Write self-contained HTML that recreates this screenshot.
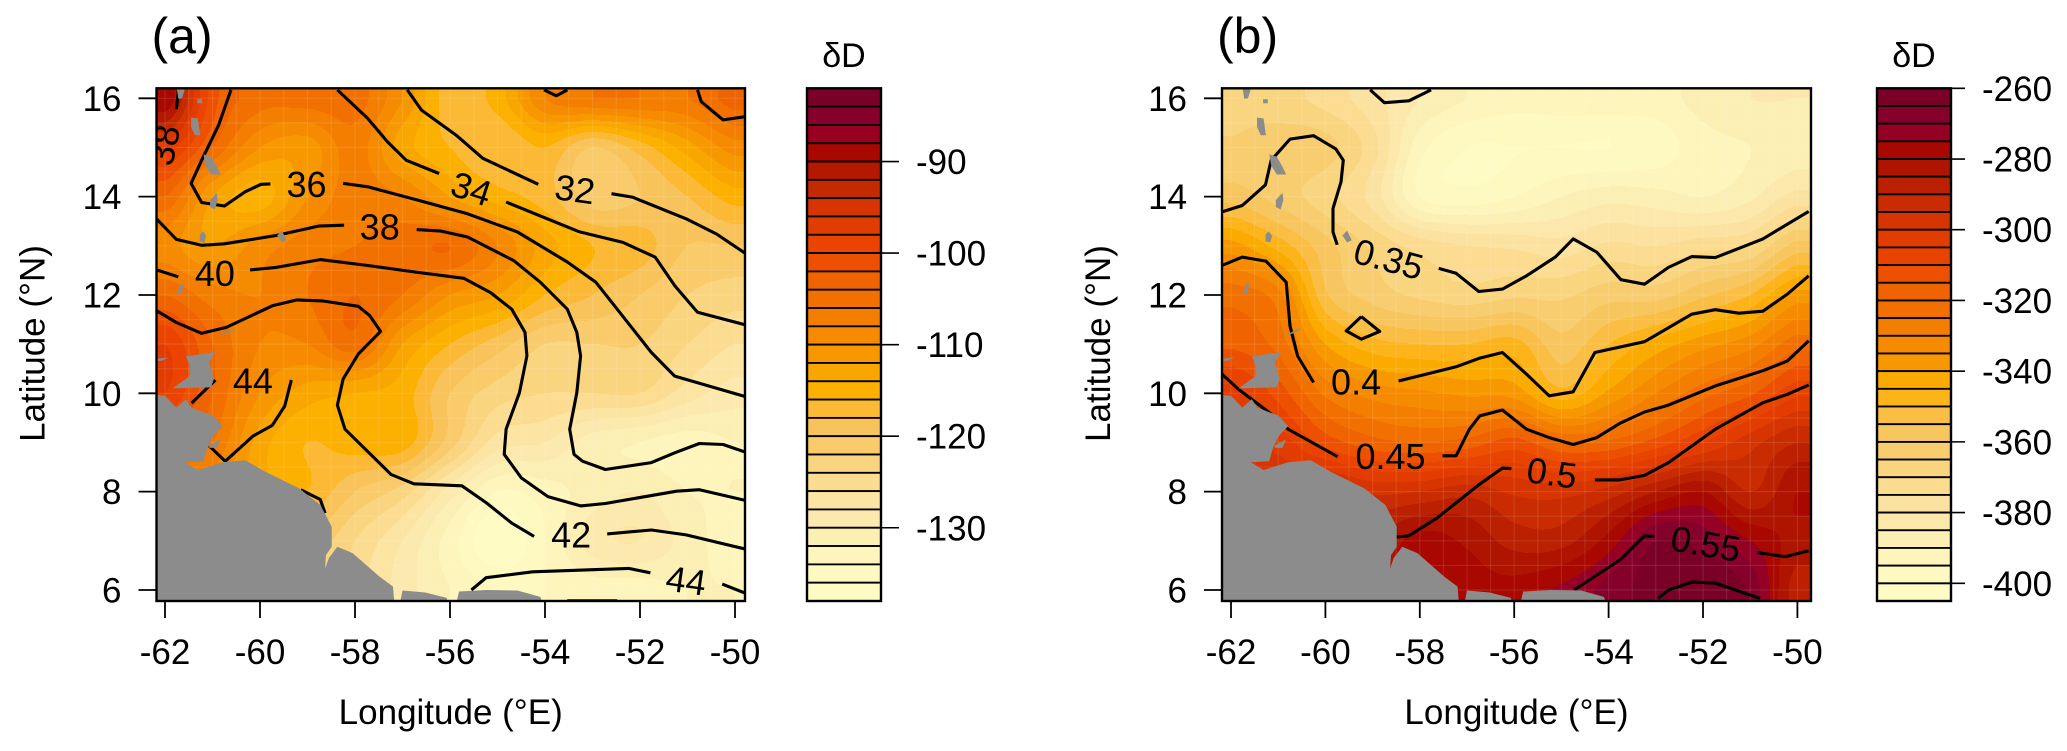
<!DOCTYPE html>
<html>
<head>
<meta charset="utf-8">
<title>Delta D maps</title>
<style>
html,body{margin:0;padding:0;background:#fff;width:2067px;height:751px;overflow:hidden}
svg{display:block}
text{font-family:"Liberation Sans",sans-serif;fill:#000}
</style>
</head>
<body>
<svg id="root" xmlns="http://www.w3.org/2000/svg" width="2067" height="751" viewBox="0 0 2067 751"></svg>
<script>
// ---------- shared data ----------
const lonGrid = [-62,-61,-60,-59,-58,-57,-56,-55,-54,-53,-52,-51,-50];
const latGrid = [16,15,14,13,12,11,10,9,8,7,6];
const lonTicks = [-62,-60,-58,-56,-54,-52,-50];
const latTicks = [6,8,10,12,14,16];
const colorbarTicksA = [-90,-100,-110,-120,-130];
const colorbarTicksB = [-260,-280,-300,-320,-340,-360,-380,-400];

// ---------- panel (a) field ----------
const deltaDA = [
[-88,-101,-105,-105,-105,-110,-117,-115,-108,-106,-106,-106,-103],
[-97,-104,-110,-111,-107,-113,-116,-118,-116,-120,-117,-113,-109],
[-104,-112,-115,-110,-107,-108,-112,-115,-117,-121,-120,-118,-115],
[-109,-112,-109,-107,-106,-105,-104,-108,-113,-116,-117,-120,-120],
[-104,-107,-108,-106,-104,-106,-110,-112,-116,-118,-120,-122,-123],
[-98,-104,-108,-108,-105,-112,-116,-119,-122,-122,-122,-124,-126],
[-98,-104,-110,-113,-114,-115,-120,-123,-124,-124,-124,-127,-129],
[-104,-106,-113,-116,-115,-115,-121,-127,-128,-131,-132,-133,-132],
[-106,-110,-114,-116,-120,-123,-129,-134,-133,-131,-130,-132,-132],
[-110,-114,-118,-120,-124,-128,-133,-138,-134,-129,-128,-131,-133],
[-112,-116,-120,-122,-125,-129,-132,-134,-134,-133,-133,-132,-132]
];
const paletteA = ["#7a0028","#85002a","#990020","#a80800","#b41800","#c42a00","#d63400","#e23c00","#ea4400","#ec5000","#ef6300","#f27000","#f47e00","#f68a00","#f79800","#f9a600","#fcb000","#fbb935","#f8c35a","#f9cb6a","#fad580","#fbdc90","#fce4a2","#fce9ad","#fbefb4","#fdf5bc","#fef9c0","#fefcc4"];

// ---------- panel (b) field ----------
const deltaDB = [
[-367,-368,-372,-378,-385,-390,-393,-392,-392,-392,-388,-385,-385],
[-364,-362,-363,-373,-393,-400,-400,-400,-400,-398,-392,-390,-388],
[-357,-362,-368,-377,-395,-398,-395,-390,-387,-388,-390,-386,-378],
[-338,-347,-358,-366,-372,-375,-376,-378,-374,-375,-372,-370,-358],
[-322,-328,-354,-362,-366,-368,-366,-366,-362,-362,-356,-350,-338],
[-316,-322,-340,-348,-350,-350,-348,-358,-350,-343,-337,-332,-322],
[-303,-312,-326,-332,-334,-336,-337,-348,-339,-330,-322,-316,-306],
[-300,-302,-312,-318,-320,-318,-313,-320,-319,-313,-305,-297,-290],
[-295,-295,-292,-296,-295,-292,-296,-297,-293,-285,-280,-290,-280],
[-290,-288,-286,-285,-278,-281,-287,-287,-278,-265,-267,-275,-282],
[-285,-284,-282,-281,-280,-278,-278,-274,-268,-262,-260,-266,-288]
];
const paletteB = ["#7a0028","#85002a","#950025","#a80800","#ae1400","#bb2000","#c82c00","#d63400","#e23c00","#e84400","#ec5000","#ef6300","#f27000","#f47e00","#f68a00","#f79800","#fbab00","#fcb41a","#fabe45","#f8c65e","#f8cd70","#fad580","#fbdc90","#fce2a0","#fce8ab","#fbefb4","#fdf5bc","#fef9c0","#fefcc4"];

// ---------- contour lines [lon,lat] ----------
const contoursA = [
[[-61.72,16.17],[-61.76,15.78]],
[[-60.61,16.17],[-60.87,15.46],[-61.23,14.74],[-61.45,14.27],[-61.23,13.88],[-60.75,13.81],[-60.31,14.10],[-59.98,14.25],[-59.78,14.26]],
[[-58.25,14.27],[-57.73,14.20],[-56.68,13.93],[-55.63,13.65],[-54.58,13.28],[-53.53,12.67],[-52.93,12.26],[-52.48,11.71],[-51.76,10.83],[-51.27,10.35],[-49.77,9.93]],
[[-58.37,16.17],[-57.73,15.59],[-57.32,15.12],[-56.92,14.74],[-56.23,14.47]],
[[-54.82,13.89],[-53.29,13.29],[-52.36,13.07],[-51.68,12.77],[-51.27,12.19],[-50.79,11.65],[-49.77,11.39]],
[[-56.90,16.17],[-56.60,15.76],[-55.87,15.25],[-55.31,14.78],[-54.14,14.25]],
[[-52.60,14.06],[-52.16,13.99],[-51.03,13.55],[-50.39,13.24],[-49.77,12.84]],
[[-54.02,16.17],[-53.76,16.05],[-53.53,16.17]],
[[-50.79,16.17],[-50.71,15.93],[-50.25,15.56],[-49.77,15.63]],
[[-62.18,13.55],[-61.76,13.13],[-61.23,13.01],[-60.75,13.04],[-59.66,13.21],[-58.77,13.40],[-58.23,13.42]],
[[-56.70,13.33],[-56.19,13.30],[-55.63,13.18],[-54.66,12.70],[-54.10,12.26],[-53.53,11.71],[-53.33,11.24],[-53.25,10.76],[-53.33,10.01],[-53.48,9.27],[-53.39,8.76],[-53.21,8.62],[-52.73,8.45],[-51.76,8.59],[-51.27,8.79],[-50.75,8.98],[-50.25,8.96],[-49.77,8.80]],
[[-62.18,12.51],[-61.72,12.37]],
[[-60.21,12.51],[-59.66,12.56],[-58.73,12.72],[-57.73,12.60],[-56.68,12.46],[-55.71,12.34],[-55.15,12.05],[-54.70,11.71],[-54.42,11.24],[-54.38,10.76],[-54.54,10.01],[-54.82,9.27],[-54.86,8.76],[-54.50,8.28],[-53.94,7.90],[-53.25,7.71],[-52.73,7.76],[-51.23,8.01],[-50.75,8.04],[-49.77,7.82]],
[[-62.18,11.68],[-61.76,11.44],[-61.23,11.22],[-60.71,11.34],[-59.74,11.78],[-59.22,11.90],[-58.69,11.88],[-57.93,11.77],[-57.69,11.58],[-57.46,11.26],[-57.93,10.80],[-58.25,10.29],[-58.37,9.76],[-58.21,9.27],[-57.24,8.35],[-56.76,8.16],[-55.75,8.12],[-55.23,7.77],[-54.70,7.36],[-54.23,7.09]],
[[-52.69,7.14],[-51.76,7.22],[-51.03,7.12],[-49.77,6.83]],
[[-61.44,9.80],[-60.94,10.27]],
[[-59.34,10.27],[-59.48,9.74],[-59.74,9.35],[-60.15,9.13],[-60.73,8.62],[-61.07,8.93]],
[[-59.14,8.04],[-58.73,7.84],[-58.63,7.56]],
[[-55.55,6.00],[-55.24,6.25],[-54.26,6.37],[-52.24,6.44],[-51.78,6.35]],
[[-50.27,6.12],[-49.77,5.93]],
[[-53.53,5.78],[-52.48,5.78]]
];
const contoursB = [
[[-59.05,16.17],[-58.75,15.91],[-58.23,15.95],[-57.76,16.17]],
[[-62.19,13.69],[-61.76,13.82],[-61.27,14.24],[-61.15,14.74],[-60.75,15.17],[-60.25,15.24],[-59.78,14.97],[-59.62,14.74],[-59.67,14.30],[-59.84,13.76],[-59.84,13.28],[-59.75,13.02]],
[[-57.60,12.54],[-57.23,12.44],[-56.75,12.07],[-56.25,12.12],[-55.74,12.39],[-55.13,12.77],[-54.75,13.14],[-54.25,12.87],[-53.74,12.31],[-53.24,12.22],[-52.73,12.56],[-52.24,12.78],[-51.74,12.76],[-50.73,13.14],[-49.76,13.70]],
[[-59.24,11.56],[-58.85,11.26],[-59.24,11.10],[-59.56,11.27],[-59.24,11.56]],
[[-62.19,12.60],[-61.76,12.77],[-61.26,12.69],[-60.83,12.26],[-60.75,11.37],[-60.59,10.76],[-60.25,10.22]],
[[-58.45,10.25],[-57.23,10.54],[-56.75,10.71],[-56.25,10.83],[-55.74,10.39],[-55.26,9.95],[-54.75,10.03],[-54.29,10.83],[-53.24,11.05],[-52.24,11.61],[-51.74,11.70],[-51.24,11.63],[-50.73,11.67],[-50.21,12.02],[-49.76,12.39]],
[[-62.19,10.39],[-61.84,10.08],[-61.19,9.61],[-60.79,9.27],[-59.74,8.71]],
[[-57.52,8.73],[-57.23,8.73],[-56.95,9.27],[-56.73,9.54],[-56.25,9.66],[-55.74,9.27],[-55.26,9.10],[-54.75,8.96],[-54.25,9.10],[-53.76,9.39],[-53.24,9.62],[-52.73,9.76],[-51.74,10.15],[-50.73,10.46],[-50.21,10.66],[-49.76,11.07]],
[[-58.49,7.08],[-58.24,7.10],[-57.64,7.46],[-56.75,8.14],[-56.25,8.48],[-56.06,8.47]],
[[-54.29,8.24],[-53.76,8.24],[-53.24,8.33],[-52.73,8.59],[-51.74,9.27],[-50.73,9.81],[-50.21,9.98],[-49.76,10.17]],
[[-54.73,6.00],[-53.76,6.61],[-53.24,7.10],[-53.03,7.09]],
[[-50.84,6.76],[-50.25,6.68],[-49.76,6.80]],
[[-52.95,5.83],[-52.73,6.00],[-52.23,6.16],[-51.74,6.14],[-50.79,5.83]]
];
// label text, lon, lat, tilt in degrees
const contourLabelsA = [
["38",-62.02,15.05,-78],["36",-59.02,14.25,0],["34",-55.55,14.16,18],["32",-53.37,14.15,8],
["38",-57.48,13.38,0],["40",-60.95,12.44,0],["44",-60.15,10.25,0],["42",-53.45,7.12,0],["44",-51.03,6.19,8]
];
const contourLabelsB = [
["0.35",-58.66,12.73,15],["0.4",-59.35,10.23,0],["0.45",-58.62,8.72,0],["0.5",-55.20,8.38,8],["0.55",-51.94,6.94,10]
];

// ---------- land outlines [lon,lat] ----------
const landPolygons = [
[[-62.3,9.98],[-62.0,9.95],[-61.76,9.71],[-61.56,9.88],[-61.44,9.71],[-60.99,9.54],[-60.79,9.33],[-60.99,9.13],[-61.11,8.89],[-61.19,8.62],[-61.58,8.60],[-61.31,8.44],[-60.79,8.60],[-60.31,8.64],[-59.90,8.41],[-59.18,8.07],[-58.73,7.73],[-58.49,7.29],[-58.49,6.88],[-58.61,6.71],[-58.63,6.44],[-58.55,6.65],[-58.37,6.88],[-58.05,6.75],[-57.48,6.27],[-57.20,6.07],[-57.16,5.6],[-62.3,5.6]],
[[-57.08,5.6],[-57.00,5.99],[-56.52,5.95],[-56.07,5.84],[-56.03,5.6]],
[[-55.90,5.6],[-55.81,5.97],[-55.23,6.00],[-54.58,5.99],[-54.10,5.86],[-54.0,5.6]],
[[-61.56,10.75],[-60.94,10.84],[-61.07,10.63],[-60.97,10.29],[-61.03,10.12],[-61.84,10.10],[-61.48,10.35],[-61.48,10.56]],
[[-62.3,10.69],[-61.92,10.73],[-62.08,10.66],[-62.3,10.66]],
[[-60.81,11.20],[-60.53,11.33],[-60.59,11.26],[-60.79,11.18]],
[[-61.68,12.22],[-61.60,12.22],[-61.66,12.04],[-61.74,12.04]],
[[-61.20,13.30],[-61.13,13.20],[-61.17,13.07],[-61.27,13.09],[-61.27,13.22]],
[[-60.91,14.08],[-60.89,13.93],[-60.95,13.74],[-61.05,13.79],[-61.05,13.93]],
[[-61.19,14.86],[-61.03,14.81],[-60.91,14.61],[-60.83,14.45],[-61.03,14.45],[-61.15,14.64]],
[[-61.45,15.61],[-61.31,15.59],[-61.26,15.25],[-61.37,15.25],[-61.45,15.42]],
[[-61.76,16.25],[-61.56,16.25],[-61.64,16.0],[-61.72,15.99]],
[[-61.32,15.98],[-61.22,15.98],[-61.22,15.90],[-61.32,15.90]],
[[-59.54,13.31],[-59.44,13.11],[-59.54,13.07],[-59.64,13.21]],
[[-61.07,8.94],[-60.83,9.06],[-60.91,8.89],[-61.07,8.89]]
];
const gridLineStep = 0.5;

// ---------- drawing ----------
const NS = "http://www.w3.org/2000/svg";
const root = document.getElementById("root");
function make(tag, parent, attrs) {
  const e = document.createElementNS(NS, tag);
  for (const k in attrs) e.setAttribute(k, attrs[k]);
  parent.appendChild(e);
  return e;
}
function catmull(a, b, c, d, t) {
  return 0.5 * (2*b + (c-a)*t + (2*a-5*b+4*c-d)*t*t + (3*b-a-3*c+d)*t*t*t);
}
function sampleField(field, lon, lat) {
  const nx = lonGrid.length, ny = latGrid.length;
  const u = Math.max(0, Math.min(nx-1.0001, (lon-lonGrid[0])/(lonGrid[1]-lonGrid[0])));
  const v = Math.max(0, Math.min(ny-1.0001, (lat-latGrid[0])/(latGrid[1]-latGrid[0])));
  const i = Math.floor(u), j = Math.floor(v), tx = u-i, ty = v-j;
  const col = [];
  for (let m = -1; m <= 2; m++) {
    const row = field[Math.max(0, Math.min(ny-1, j+m))];
    col.push(catmull(row[Math.max(0,i-1)], row[i], row[i+1], row[Math.min(nx-1,i+2)], tx));
  }
  return catmull(col[0], col[1], col[2], col[3], ty);
}

function drawPanel(cfg) {
  const g = make("g", root, {});
  
  
  const xOf = lon => cfg.x0 + cfg.dx * (lon + 62);
  const yOf = lat => 98.3 + 49.17 * (16 - lat);
  const lonOf = x => -62 + (x - cfg.x0) / cfg.dx;
  const latOf = y => 16 - (y - 98.3) / 49.17;
  const L = cfg.left, R = cfg.right, T = 88.3, B = 601;

  const clip = make("clipPath", g, {id: "clip-" + cfg.key});
  make("rect", clip, {x: L, y: T, width: R-L, height: B-T});

  // filled bands
  const bands = make("g", g, {"clip-path": "url(#clip-" + cfg.key + ")", "shape-rendering": "crispEdges"});
  
  
  const runs = cfg.palette.map(() => []);
  const levelOf = v => Math.max(0, Math.min(cfg.palette.length-1, Math.floor((cfg.top - v) / cfg.step)));
  for (let y = Math.floor(T); y < B; y++) {
    const lat = latOf(y + 0.5);
    let start = Math.floor(L), cur = -1;
    for (let x = Math.floor(L); x <= Math.ceil(R); x++) {
      const k = x === Math.ceil(R) ? -2 : levelOf(sampleField(cfg.field, lonOf(x + 0.5), lat));
      if (k !== cur) {
        if (cur >= 0) runs[cur].push("M" + start + " " + y + "h" + (x-start) + "v1h" + (start-x) + "z");
        start = x; cur = k;
      }
    }
  }
  runs.forEach((r, k) => {
    const p = make("path", bands, {d: r.join(""), fill: cfg.palette[k]});
    
    
  });

  // faint mesh lines
  const mesh = make("g", g, {"clip-path": "url(#clip-" + cfg.key + ")", stroke: "#fff", "stroke-opacity": "0.1", "stroke-width": "1.2"});
  
  
  for (let lon = lonGrid[0]; lon <= lonGrid[lonGrid.length-1]; lon += gridLineStep)
    make("line", mesh, {x1: xOf(lon), x2: xOf(lon), y1: T, y2: B});
  for (let lat = latGrid[latGrid.length-1]; lat <= latGrid[0]; lat += gridLineStep)
    make("line", mesh, {x1: L, x2: R, y1: yOf(lat), y2: yOf(lat)});

  // contour lines
  const lines = make("g", g, {"clip-path": "url(#clip-" + cfg.key + ")", fill: "none", stroke: "#000", "stroke-width": "3.1", "stroke-linejoin": "round"});
  
  
  cfg.contours.forEach(line => {
    const pts = line.map(p => xOf(p[0]).toFixed(1) + "," + yOf(p[1]).toFixed(1)).join(" ");
    const pl = make("polyline", lines, {points: pts});
    
    
  });

  // land
  const land = make("g", g, {"clip-path": "url(#clip-" + cfg.key + ")", fill: "#8c8c8c"});
  
  
  landPolygons.forEach(poly => {
    const pts = poly.map(p => xOf(p[0]).toFixed(1) + "," + yOf(p[1]).toFixed(1)).join(" ");
    const pg = make("polygon", land, {points: pts});
    
    
  });

  // contour labels
  const labels = make("g", g, {"clip-path": "url(#clip-" + cfg.key + ")"});
  
  
  cfg.labels.forEach(l => {
    const cx = xOf(l[1]), cy = yOf(l[2]);
    const t = make("text", labels, {x: cx, y: cy + 12.5, "text-anchor": "middle", "font-size": 36,
      transform: "rotate(" + l[3] + " " + cx + " " + cy + ")"});
    t.textContent = l[0];
    
    
  });

  // frame
  const frame = make("rect", g, {x: L, y: T, width: R-L, height: B-T, fill: "none", stroke: "#000", "stroke-width": 2.4});
  
  

  // axes
  const xa = make("g", g, {});
  
  
  lonTicks.forEach(v => {
    const tk = make("line", xa, {x1: xOf(v), x2: xOf(v), y1: B, y2: B+17, stroke: "#000", "stroke-width": 1.8});
    
    
    const t = make("text", xa, {x: xOf(v), y: 664, "text-anchor": "middle", "font-size": 35});
    t.textContent = v;
    
    
  });
  const ya = make("g", g, {});
  
  
  latTicks.forEach(v => {
    const tk = make("line", ya, {x1: L-18, x2: L, y1: yOf(v), y2: yOf(v), stroke: "#000", "stroke-width": 1.8});
    
    
    const t = make("text", ya, {x: L-35, y: yOf(v)+12.5, "text-anchor": "end", "font-size": 35});
    t.textContent = v;
    
    
  });
  const xt = make("text", g, {x: (L+R)/2, y: 724, "text-anchor": "middle", "font-size": 35});
  xt.textContent = "Longitude (°E)";
  
  
  const ytx = L - 112, yty = 343.5;
  const yt = make("text", g, {x: ytx, y: yty, "text-anchor": "middle", "font-size": 35, transform: "rotate(-90 " + ytx + " " + yty + ")"});
  yt.textContent = "Latitude (°N)";
  
  
  const pl = make("text", g, {x: L-5, y: 53, "font-size": 50});
  pl.textContent = cfg.title;
  
  

  // colorbar
  const cb = make("g", g, {});
  
  
  const cbL = cfg.cbLeft, cbR = cfg.cbRight, n = cfg.palette.length;
  const span = cfg.step * n;
  const cy = v => T + (cfg.top - v) / span * (B - T);
  cfg.palette.forEach((c, k) => {
    const seg = make("rect", cb, {x: cbL, y: cy(cfg.top - k*cfg.step), width: cbR-cbL, height: cy(cfg.top-(k+1)*cfg.step)-cy(cfg.top-k*cfg.step), fill: c, stroke: "#000", "stroke-width": 1.8});
    
    
  });
  const cf = make("rect", cb, {x: cbL, y: T, width: cbR-cbL, height: B-T, fill: "none", stroke: "#000", "stroke-width": 2.4});
  
  
  cfg.cbTicks.forEach(v => {
    const tk = make("line", cb, {x1: cbL, x2: cfg.cbLabelX-17, y1: cy(v), y2: cy(v), stroke: "#000", "stroke-width": 1.6});
    
    
    const t = make("text", cb, {x: cfg.cbLabelX, y: cy(v)+12.5, "font-size": 35});
    t.textContent = v;
    
    
  });
  const ct = make("text", cb, {x: (cbL+cbR)/2, y: 67, "text-anchor": "middle", "font-size": 34});
  ct.textContent = "δD";
  
  
}

drawPanel({key:"panel-a", title:"(a)", field:deltaDA, palette:paletteA, top:-82, step:2, contours:contoursA, labels:contourLabelsA,
  x0:165, dx:47.5, left:156.5, right:745, cbLeft:807, cbRight:881, cbLabelX:916, cbTicks:colorbarTicksA});
drawPanel({key:"panel-b", title:"(b)", field:deltaDB, palette:paletteB, top:-260, step:5, contours:contoursB, labels:contourLabelsB,
  x0:1231, dx:47.2, left:1222, right:1811, cbLeft:1877, cbRight:1951, cbLabelX:1982, cbTicks:colorbarTicksB});
</script>
</body>
</html>
